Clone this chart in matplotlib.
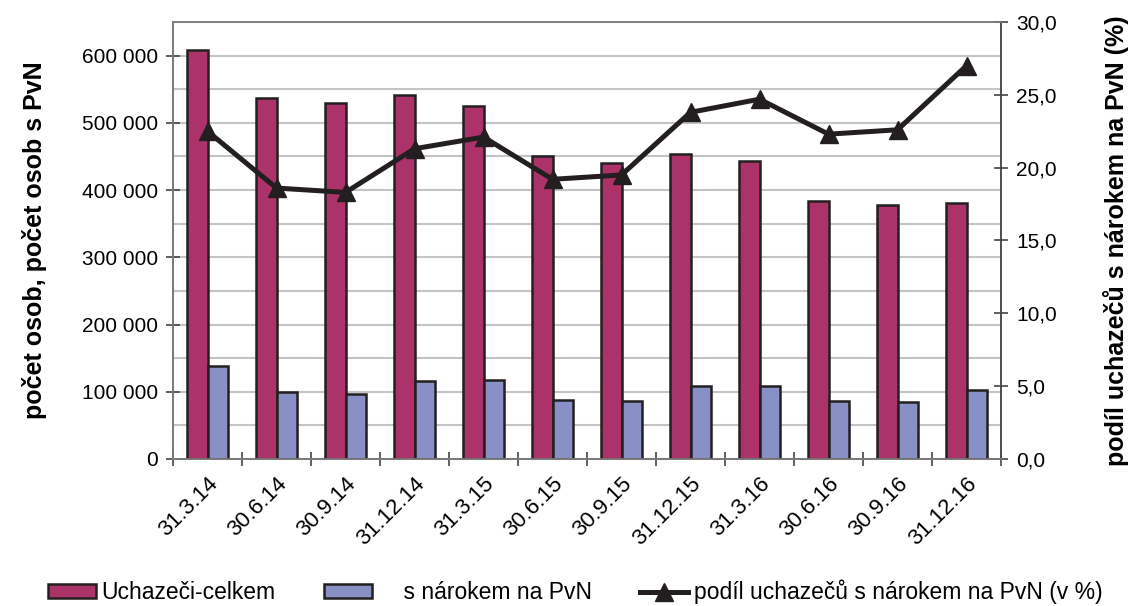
import numpy as np
import matplotlib.pyplot as plt
from matplotlib.ticker import FuncFormatter, MultipleLocator

plt.rcParams['font.family'] = ['Liberation Sans', 'DejaVu Sans']

# data
dates = ["31.3.14", "30.6.14", "30.9.14", "31.12.14", "31.3.15", "30.6.15",
         "30.9.15", "31.12.15", "31.3.16", "30.6.16", "30.9.16", "31.12.16"]
celkem = [608000, 537000, 529000, 541000, 525000, 451000,
          441000, 453000, 443000, 384000, 378000, 381000]
s_narokem = [138000, 100000, 97000, 116000, 117000, 87000,
             86000, 108000, 109000, 86000, 85000, 103000]
podil = [22.5, 18.6, 18.3, 21.3, 22.1, 19.2, 19.5, 23.8, 24.7, 22.3, 22.6, 27.0]

magenta = "#AB3369"
blue = "#8890C6"
dark = "#231F20"

fig = plt.figure(figsize=(11.33, 6.06), dpi=100)
ax = fig.add_axes([0.1527, 0.2426, 0.7308, 0.7211])
ax2 = ax.twinx()

x = np.arange(len(dates))
w = 0.29
b1 = ax.bar(x - w / 2, celkem, w, color=magenta, edgecolor=dark, linewidth=1.8,
            label="Uchazeči-celkem", zorder=3)
b2 = ax.bar(x + w / 2, s_narokem, w, color=blue, edgecolor=dark, linewidth=1.8,
            label="    s nárokem na PvN", zorder=3)
ln, = ax2.plot(x, podil, color=dark, linewidth=3.6, marker="^", markersize=13,
               label="podíl uchazečů s nárokem na PvN (v %)", zorder=4)

ax.set_xlim(-0.5, len(dates) - 0.5)
ax.set_ylim(0, 650000)
ax2.set_ylim(0, 30)

ax.yaxis.set_major_locator(MultipleLocator(100000))
ax.yaxis.set_minor_locator(MultipleLocator(50000))
ax.yaxis.set_major_formatter(FuncFormatter(lambda v, p: f"{int(v):,}".replace(",", " ")))
ax2.yaxis.set_major_locator(MultipleLocator(5))
ax2.yaxis.set_major_formatter(FuncFormatter(lambda v, p: f"{v:.1f}".replace(".", ",")))

ax.grid(axis="y", which="both", color="#C4C4C4", linewidth=1.5, zorder=0)
ax.set_axisbelow(True)

ax.set_xticks(x)
ax.set_xticklabels(dates, rotation=45, ha="right", rotation_mode="anchor", fontsize=16)
ax.set_xticks(np.arange(-0.5, len(dates)), minor=True)
ax.tick_params(axis="x", which="major", length=0, pad=10)
ax.tick_params(axis="x", which="minor", direction="inout", length=10, width=1.2, color="#444444")
ax.tick_params(axis="y", which="major", direction="inout", length=10, width=1.2,
               labelsize=15, color="#444444", pad=6)
ax.tick_params(axis="y", which="minor", length=0)
ax2.tick_params(axis="y", direction="inout", length=10, width=1.2, labelsize=15,
                color="#444444", pad=6)

for a in (ax, ax2):
    for s in a.spines.values():
        s.set_color("#808080")
        s.set_linewidth(1.2)
ax.spines["left"].set_color("#444444")
ax2.spines["right"].set_color("#444444")
ax.spines["bottom"].set_color("#444444")

ax.set_ylabel("počet osob, počet osob s PvN", fontsize=18, fontweight="bold", labelpad=25)
ax2.set_ylabel("podíl uchazečů s nárokem na PvN (%)", fontsize=18, fontweight="bold", labelpad=33)

fig.legend([b1, b2, ln], [b1.get_label(), b2.get_label(), ln.get_label()],
           loc="center left", bbox_to_anchor=(0.024, 0.023), ncol=3, frameon=False,
           fontsize=16.5, handlelength=2.1, handleheight=0.55, handletextpad=0.25,
           columnspacing=2.1)

fig.savefig("out.png", dpi=100)
